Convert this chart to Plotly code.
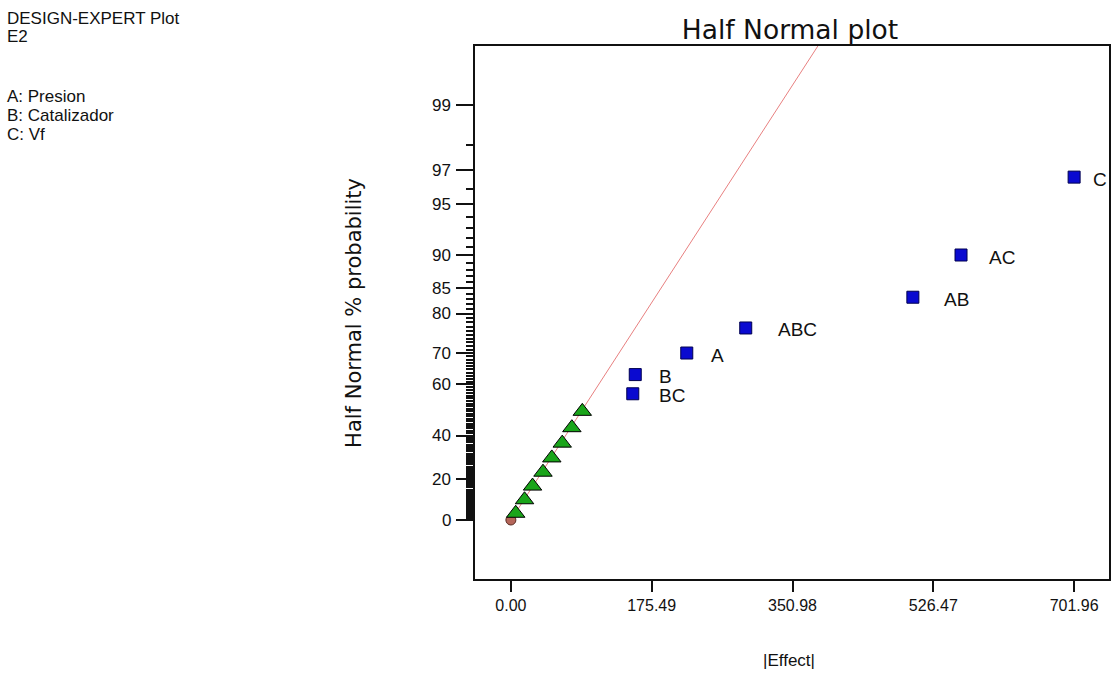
import plotly.graph_objects as go
from statistics import NormalDist

# ---- data ----
effect_names = ["BC", "B", "A", "ABC", "AB", "AC", "C"]
effect_values = [151.9, 155.0, 219.2, 292.7, 501.0, 561.0, 701.96]
effect_prob = [56.67, 63.33, 70.0, 76.67, 83.33, 90.0, 96.67]

error_values = [6.0, 17.0, 27.0, 40.0, 51.0, 64.0, 76.0, 89.0]
error_prob = [3.33, 10.0, 16.67, 23.33, 30.0, 36.67, 43.33, 50.0]

origin_value = [0.0]
origin_prob = [0.0]

line_effect = [0.0, 382.6]
line_prob = [0.0, 99.674]

x_ticks = [0.00, 175.49, 350.98, 526.47, 701.96]
x_tick_labels = ["0.00", "175.49", "350.98", "526.47", "701.96"]
y_ticks = [0, 20, 40, 60, 70, 80, 85, 90, 95, 97, 99]

header_lines = ["DESIGN-EXPERT Plot", "E2", "A: Presion", "B: Catalizador", "C: Vf"]

nd = NormalDist()


def hn(p):
    """half-normal probability scale"""
    return nd.inv_cdf((1 + p / 100.0) / 2.0)


W, H = 1112, 694
L, R, T, B = 475, 1111, 46, 579

# label pixel offsets (style)
label_dx = [24, 22, 22, 30, 29, 26, 17]

fig = go.Figure()

fig.add_trace(go.Scatter(
    x=line_effect, y=[hn(p) for p in line_prob], mode="lines",
    line=dict(color="#e88080", width=1), hoverinfo="skip", showlegend=False))

fig.add_trace(go.Scatter(
    x=origin_value, y=[hn(p) for p in origin_prob], mode="markers",
    marker=dict(symbol="circle", size=10, color="#b5665a",
                line=dict(color="#5a2a20", width=1)), showlegend=False))

fig.add_trace(go.Scatter(
    x=error_values, y=[hn(p) for p in error_prob], mode="markers",
    marker=dict(symbol="triangle-up", size=16, color="#1aa51a",
                line=dict(color="#000000", width=1)), showlegend=False))

fig.add_trace(go.Scatter(
    x=effect_values, y=[hn(p) for p in effect_prob], mode="markers",
    marker=dict(symbol="square", size=12, color="#0a0ad0",
                line=dict(color="#000050", width=1)), showlegend=False))

font_family = "Liberation Sans, Arial, sans-serif"
wide_family = "DejaVu Sans, Verdana, sans-serif"

annotations = []
for name, v, p, dx in zip(effect_names, effect_values, effect_prob, label_dx):
    annotations.append(dict(x=v, y=hn(p), text=name, showarrow=False,
                            xanchor="left", yanchor="middle", xshift=dx, yshift=-2,
                            font=dict(size=19, color="#111111", family=font_family)))

# y tick labels placed left of the long major ticks
for p in y_ticks:
    annotations.append(dict(xref="paper", yref="y", x=(452 - L) / (R - L), y=hn(p),
                            text=str(p), showarrow=False, xanchor="right", yanchor="middle",
                            borderpad=0,
                            font=dict(size=17, color="#111111", family=font_family)))

header_y = [18, 37, 96, 115, 134]
for txt, py in zip(header_lines, header_y):
    annotations.append(dict(xref="paper", yref="paper",
                            x=(4 - L) / (R - L), y=(B - py) / (B - T),
                            text=txt, showarrow=False, xanchor="left", yanchor="middle",
                            font=dict(size=17, color="#111111", family=font_family)))

annotations.append(dict(xref="paper", yref="paper", x=(353 - L) / (R - L), y=0.5,
                        text="Half Normal % probability", textangle=-90, showarrow=False,
                        xanchor="center", yanchor="middle",
                        font=dict(size=21, color="#111111", family=wide_family)))
annotations.append(dict(xref="paper", yref="paper", x=(790 - L) / (R - L),
                        y=(B - 660) / (B - T), text="|Effect|", showarrow=False,
                        xanchor="center", yanchor="middle",
                        font=dict(size=17, color="#111111", family=font_family)))

minor_vals = [hn(p) for p in range(1, 99) if p not in y_ticks]

fig.update_layout(
    width=W, height=H,
    margin=dict(l=L, r=W - R, t=T, b=H - B, pad=0),
    paper_bgcolor="white", plot_bgcolor="white",
    font=dict(family=font_family, color="#111111"),
    title=dict(text="Half Normal plot", x=790 / W, xref="container", xanchor="center",
               y=1 - 30 / H, yref="container", yanchor="middle",
               font=dict(size=26.5, color="#111111", family=wide_family)),
    annotations=annotations,
    xaxis=dict(range=[(L - 511) / 0.8049, (R - 511) / 0.8049],
               tickmode="array", tickvals=x_ticks, ticktext=x_tick_labels,
               ticks="outside", ticklen=11, tickwidth=1.5, tickcolor="#111111",
               showline=True, linecolor="#111111", linewidth=2, mirror=True,
               showgrid=False, zeroline=False,
               tickfont=dict(size=16, color="#111111", family=font_family)),
    yaxis=dict(range=[(520 - B) / 161.1, (520 - T) / 161.1],
               tickmode="array", tickvals=[hn(p) for p in y_ticks],
               showticklabels=False,
               ticks="outside", ticklen=17, tickwidth=1.5, tickcolor="#111111",
               minor=dict(tickmode="array", tickvals=minor_vals, ticks="outside",
                          ticklen=7, tickwidth=1.5, tickcolor="#111111", showgrid=False),
               showline=True, linecolor="#111111", linewidth=2, mirror=True,
               showgrid=False, zeroline=False),
)

fig.write_html("out.html", config={"displayModeBar": False},
               post_script="document.body.style.margin='0';")
